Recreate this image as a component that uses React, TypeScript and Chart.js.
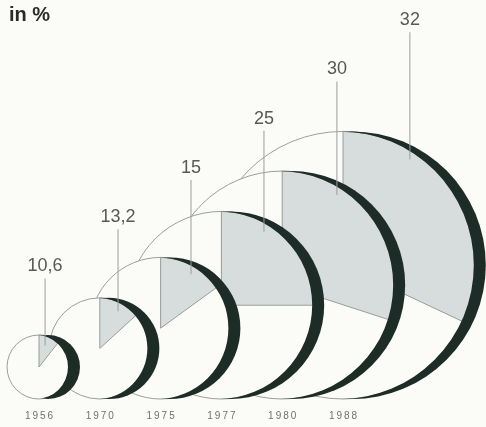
import { useEffect, useRef } from "react";
import { Chart, registerables } from "chart.js";

Chart.register(...registerables);

// ---- data ----
const years = ["1956", "1970", "1975", "1977", "1980", "1988"];
const shares = [10.6, 13.2, 15, 25, 30, 32];
const shareLabels = ["10,6", "13,2", "15", "25", "30", "32"];
// relative total volume (circle area), first year = 1
const relativeVolume = [1, 2.5, 4.9, 8.6, 12.7, 17.5];
const titleText = "in %";

// ---- style ----
const BG = "#fbfcf8";
const WEDGE = "#d6dddc";
const DARK = "#1e2c28";
const OUTLINE = "#8f9491";
const LABEL = "#585858";
const BASE_RADIUS = 0.526; // axis units for volume 1
const SHADOW_OUT = 9; // px, outer edge shift to the right
const SHADOW_IN = 3; // px, inner edge shift to the left

const points = relativeVolume.map((v, i) => ({ x: i, y: BASE_RADIUS * Math.sqrt(v) }));

const circlesPlugin = {
  id: "circles",
  afterDatasetsDraw(chart: any) {
    const { ctx } = chart;
    const xs = chart.scales.x;
    const ys = chart.scales.y;
    const W = chart.width;
    const H = chart.height;
    const unit = xs.getPixelForValue(1) - xs.getPixelForValue(0);
    const geo = points.map((p) => ({
      cx: xs.getPixelForValue(p.x),
      cy: ys.getPixelForValue(p.y),
      r: p.y * unit,
    }));
    ctx.save();
    // circles, largest at back
    for (let i = geo.length - 1; i >= 0; i--) {
      const { cx, cy, r } = geo[i];
      // face
      ctx.beginPath();
      ctx.arc(cx, cy, r, 0, Math.PI * 2);
      ctx.fillStyle = BG;
      ctx.fill();
      // wedge
      const a0 = -Math.PI / 2;
      const a1 = a0 + (Math.PI * 2 * shares[i]) / 100;
      ctx.beginPath();
      ctx.moveTo(cx, cy);
      ctx.arc(cx, cy, r, a0, a1);
      ctx.closePath();
      ctx.fillStyle = WEDGE;
      ctx.fill();
      ctx.lineWidth = 0.9;
      ctx.strokeStyle = OUTLINE;
      ctx.stroke();
      // outline
      ctx.beginPath();
      ctx.arc(cx, cy, r, 0, Math.PI * 2);
      ctx.lineWidth = 0.9;
      ctx.strokeStyle = OUTLINE;
      ctx.stroke();
      // dark crescent on the right
      ctx.save();
      ctx.beginPath();
      ctx.rect(0, 0, W, H);
      ctx.arc(cx - SHADOW_IN, cy, r, 0, Math.PI * 2, true);
      ctx.clip("evenodd");
      ctx.beginPath();
      ctx.arc(cx + SHADOW_OUT, cy, r, 0, Math.PI * 2);
      ctx.fillStyle = DARK;
      ctx.fill();
      ctx.restore();
    }
    // value labels with leader lines
    ctx.font = "18px 'Liberation Sans', Arial, sans-serif";
    ctx.textAlign = "center";
    ctx.textBaseline = "middle";
    geo.forEach((g, i) => {
      const lx = xs.getPixelForValue(0.1 + 1.2 * i);
      const ly = ys.getPixelForValue(2.18 + 0.81 * i);
      const dx = lx - g.cx;
      const yTop = g.cy - Math.sqrt(Math.max(0, g.r * g.r - dx * dx));
      ctx.beginPath();
      ctx.moveTo(lx, ly + 12);
      ctx.lineTo(lx, yTop + 10);
      ctx.lineWidth = 1;
      ctx.strokeStyle = "#9a9d9b";
      ctx.stroke();
      ctx.fillStyle = LABEL;
      ctx.fillText(shareLabels[i], lx, ly);
    });
    // year labels
    ctx.font = "10px 'Liberation Sans', Arial, sans-serif";
    (ctx as any).letterSpacing = "2px";
    ctx.fillStyle = "#707070";
    geo.forEach((g, i) => {
      ctx.fillText(years[i], g.cx + 1, ys.getPixelForValue(0) + 17);
    });
    (ctx as any).letterSpacing = "0px";
    // title
    ctx.font = "bold 20px 'Liberation Sans', Arial, sans-serif";
    ctx.textAlign = "left";
    ctx.textBaseline = "alphabetic";
    ctx.fillStyle = "#2b2b2b";
    ctx.fillText(titleText, 9, 21);
    ctx.restore();
  },
};

export default function App() {
  const ref = useRef<HTMLCanvasElement | null>(null);
  useEffect(() => {
    if (!ref.current) return;
    const pxPerUnit = 60.8;
    const chart = new Chart(ref.current, {
      type: "scatter",
      data: {
        labels: years,
        datasets: [{ data: points, pointRadius: 0, showLine: false }],
      },
      options: {
        animation: false,
        responsive: true,
        maintainAspectRatio: false,
        layout: { padding: 0 },
        plugins: { legend: { display: false }, tooltip: { enabled: false } },
        scales: {
          x: { type: "linear", display: false, min: -39 / pxPerUnit, max: (486 - 39) / pxPerUnit },
          y: { type: "linear", display: false, min: -(427 - 399) / pxPerUnit, max: 399 / pxPerUnit },
        },
      },
      plugins: [circlesPlugin],
    });
    return () => chart.destroy();
  }, []);
  return (
    <div style={{ position: "fixed", left: 0, top: 0, width: 486, height: 427, background: BG }}>
      <canvas ref={ref} />
    </div>
  );
}
